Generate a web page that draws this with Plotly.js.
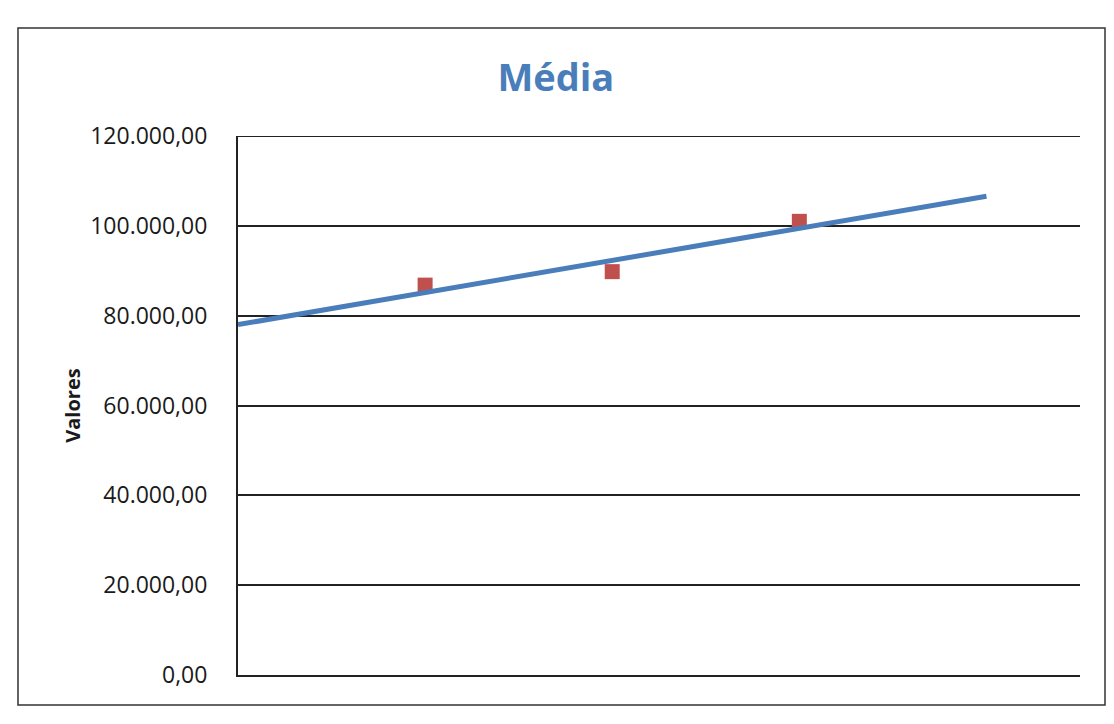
<!DOCTYPE html>
<html>
<head>
<meta charset="utf-8">
<script src="https://cdn.plot.ly/plotly-3.0.1.min.js"></script>
<style>
  html, body { margin: 0; padding: 0; background: #ffffff; }
  #chart { width: 1114px; height: 724px; }
</style>
</head>
<body>
<div id="chart"></div>
<script>
// Data
const pointX = [1, 2, 3];
const pointY = [86800, 89800, 101000];
const trendX = [0, 4];
const trendY = [78000, 106600];
const yTickValues = [0, 20000, 40000, 60000, 80000, 100000, 120000];

const FONT = "'Open Sans', Lato, sans-serif";

const traces = [
  {
    x: pointX,
    y: pointY,
    type: 'scatter',
    mode: 'markers',
    name: 'Média',
    marker: { symbol: 'square', size: 15, color: '#C0504D', line: { width: 0 } },
    hoverinfo: 'x+y'
  },
  {
    x: trendX,
    y: trendY,
    type: 'scatter',
    mode: 'lines',
    name: 'Linear (Média)',
    line: { color: '#4A7EBB', width: 5 },
    hoverinfo: 'skip'
  }
];

const yMax = yTickValues[yTickValues.length - 1];

const layout = {
  width: 1114,
  height: 724,
  margin: { l: 238, r: 34, t: 136, b: 49 },
  paper_bgcolor: '#ffffff',
  plot_bgcolor: '#ffffff',
  separators: ',.',
  showlegend: false,
  font: { family: FONT, color: '#1a1a1a' },
  title: {
    text: '<b>Média</b>',
    font: { family: FONT, size: 38, color: '#4A7EBB' },
    x: 0.499, xref: 'container', xanchor: 'center',
    y: 0.892, yref: 'container', yanchor: 'middle'
  },
  xaxis: {
    range: [0, 4.5],
    showgrid: false,
    zeroline: false,
    showticklabels: false,
    ticks: '',
    showline: true,
    linecolor: '#222222',
    linewidth: 2,
    mirror: false
  },
  yaxis: {
    range: [0, yMax],
    tickvals: yTickValues,
    tickformat: ',.2f',
    ticks: '',
    ticklabelstandoff: 24,
    tickfont: { family: FONT, size: 23, color: '#1a1a1a' },
    showgrid: true,
    gridcolor: '#222222',
    gridwidth: 2,
    zeroline: false,
    showline: true,
    linecolor: '#222222',
    linewidth: 2,
    title: {
      text: '<b>Valores</b>',
      font: { family: FONT, size: 20, color: '#1a1a1a' },
      standoff: 4
    }
  },
  shapes: [
    {
      type: 'line', xref: 'paper', yref: 'y',
      x0: 0, x1: 1, y0: yMax, y1: yMax,
      line: { color: '#222222', width: 2 },
      layer: 'below'
    },
    {
      type: 'rect', xref: 'paper', yref: 'paper',
      x0: -0.2613, x1: 1.0297, y0: -0.0557, y1: 1.2004,
      line: { color: '#333333', width: 1.5 },
      fillcolor: 'rgba(0,0,0,0)',
      layer: 'below'
    }
  ]
};

Plotly.newPlot('chart', traces, layout, { displayModeBar: false, staticPlot: true });
</script>
</body>
</html>
